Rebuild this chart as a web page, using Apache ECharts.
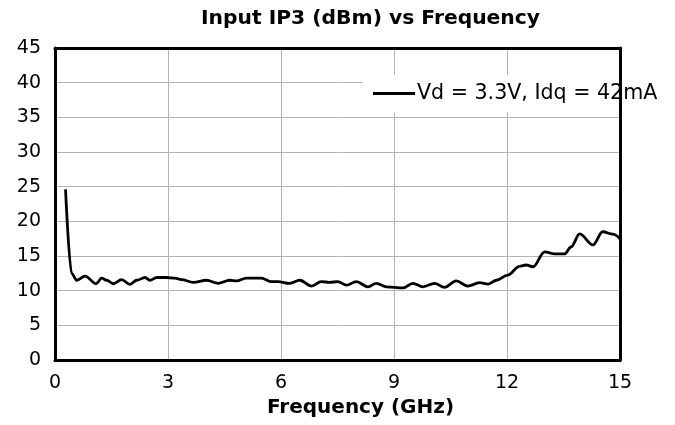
<!DOCTYPE html>
<html><head><meta charset="utf-8">
<script src="https://cdn.jsdelivr.net/npm/echarts@6/dist/echarts.min.js"></script>
<style>html,body{margin:0;padding:0;background:#fff}#c{width:675px;height:425px}</style>
</head><body><div id="c"></div>
<script>
var titleText = 'Input IP3 (dBm) vs Frequency';
var xName = 'Frequency (GHz)';
var seriesName = 'Vd = 3.3V, Idq = 42mA';
var freq = [0.28,0.44,0.58,0.8,1.09,1.24,1.37,1.55,1.77,1.99,2.17,2.39,2.52,2.7,2.96,3.18,3.36,3.67,4.02,4.33,4.64,4.82,5.08,5.48,5.75,5.92,6.23,6.5,6.81,7.07,7.29,7.51,7.74,8.0,8.31,8.53,8.8,9.24,9.5,9.77,10.08,10.34,10.65,10.96,11.27,11.5,11.72,12.02,12.33,12.51,12.69,13.0,13.26,13.53,13.7,13.93,14.28,14.54,14.81,15.0];
var ip3 = [24.6,12.5,11.5,12.1,11.0,11.8,11.5,11.0,11.6,10.9,11.5,11.9,11.5,11.9,11.9,11.8,11.6,11.2,11.5,11.05,11.5,11.4,11.8,11.8,11.3,11.3,11.05,11.5,10.66,11.3,11.2,11.3,10.8,11.3,10.56,11.05,10.56,10.4,11.05,10.56,11.05,10.47,11.4,10.66,11.15,10.95,11.5,12.25,13.5,13.7,13.45,15.6,15.3,15.3,16.3,18.2,16.6,18.5,18.15,17.5];
var xMin = 0, xMax = 15, xStep = 3;
var yMin = 0, yMax = 45, yStep = 5;

var pts = freq.map(function(f,i){return [f, ip3[i]];});
var font = 'DejaVu Sans';
var chart = echarts.init(document.getElementById('c'), null, {renderer:'canvas'});
chart.setOption({
  animation:false,
  backgroundColor:'#fff',
  title:{text:titleText, left:201, top:9, padding:0,
    textStyle:{fontFamily:font, fontWeight:'bold', fontSize:20.3, color:'#000'}},
  legend:{data:[seriesName], left:363, top:75, orient:'horizontal', icon:'rect',
    backgroundColor:'#fff', padding:[8,10], itemWidth:42, itemHeight:3,
    textStyle:{fontFamily:font, fontSize:20.6, color:'#000', padding:[0,0,0,-3]}, z:3},
  grid:{left:55, right:55, top:48, bottom:65, containLabel:false},
  xAxis:[{type:'value', min:xMin, max:xMax, interval:xStep,
    name:xName, nameLocation:'middle', nameGap:38,
    nameTextStyle:{fontFamily:font, fontWeight:'bold', fontSize:20, color:'#000', padding:[0,0,0,46]},
    axisLine:{show:true, lineStyle:{color:'#000', width:3}},
    axisTick:{show:false},
    axisLabel:{fontFamily:font, fontSize:19, color:'#000', margin:14},
    splitLine:{show:true, lineStyle:{color:'#b4b4b4', width:1}}},
   {type:'value', position:'top', min:xMin, max:xMax, interval:xStep,
    axisLine:{show:true, onZero:false, lineStyle:{color:'#000', width:3}},
    axisTick:{show:false}, axisLabel:{show:false}, splitLine:{show:false}}],
  yAxis:[{type:'value', min:yMin, max:yMax, interval:yStep,
    axisLine:{show:true, lineStyle:{color:'#000', width:3}},
    axisTick:{show:false},
    axisLabel:{fontFamily:font, fontSize:19, color:'#000', margin:14},
    splitLine:{show:true, lineStyle:{color:'#b4b4b4', width:1}}},
   {type:'value', position:'right', min:yMin, max:yMax, interval:yStep,
    axisLine:{show:true, onZero:false, lineStyle:{color:'#000', width:3}},
    axisTick:{show:false}, axisLabel:{show:false}, splitLine:{show:false}}],
  series:[{name:seriesName, type:'line', data:pts, symbol:'none', showSymbol:false,
    smooth:0.35, smoothMonotone:'x', clip:false, z:6,
    lineStyle:{color:'#000', width:2.8}, itemStyle:{color:'#000'},
    markLine:{silent:true, symbol:'none', label:{show:false},
      lineStyle:{color:'#000', width:3, type:'solid'},
      data:[{xAxis:xMax}]}}]
});
</script></body></html>
